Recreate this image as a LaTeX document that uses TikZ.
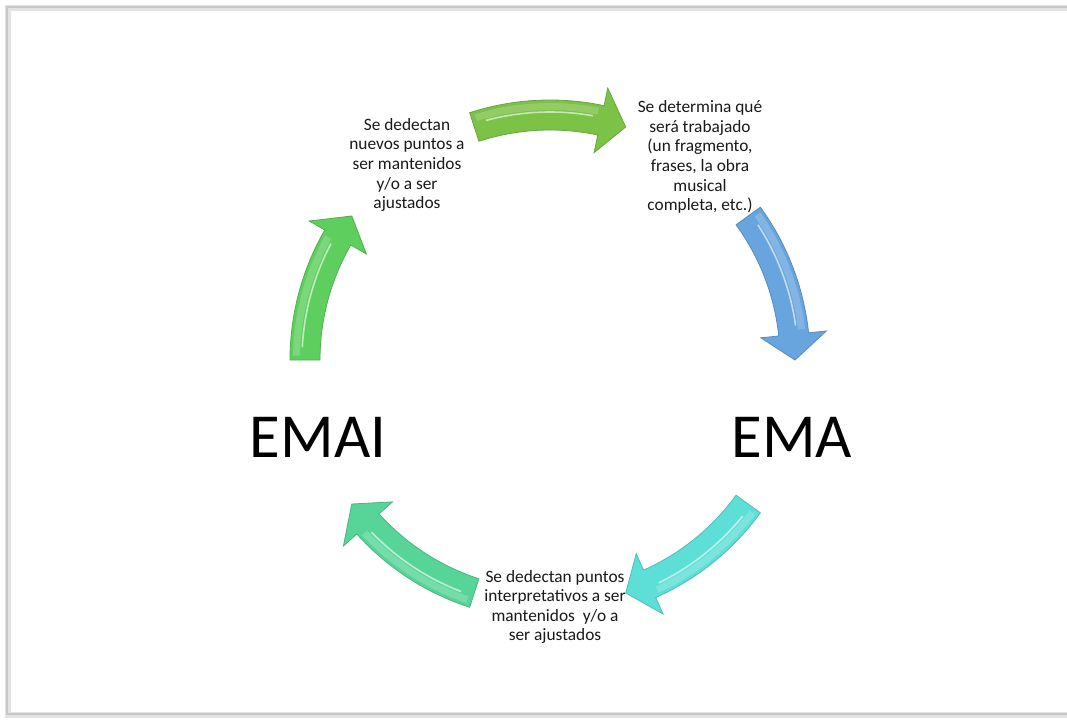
\documentclass[tikz,border=0pt]{standalone}
\usepackage{fontspec}
\setmainfont{Carlito}
\usepackage{xcolor}
\usetikzlibrary{positioning}

\definecolor{greentop}{HTML}{7BC246}
\definecolor{blueright}{HTML}{68A5DE}
\definecolor{cyanlow}{HTML}{5DDED6}
\definecolor{tealleft}{HTML}{57D598}
\definecolor{greenleft}{HTML}{5ECF5E}
\definecolor{framegray}{HTML}{C8C8C8}

% curved block arrow: tail angle, tip angle, colour
\newcommand{\cyclearrow}[3]{
\fill[#3, draw=#3!85!black, line width=0.6]
  (#1:260) arc[start angle=#1, end angle=#2+6, radius=260]
  -- (#2+6:278) -- (#2:245) -- (#2+6:212) -- (#2+6:230)
  arc[start angle=#2+6, end angle=#1, radius=230] -- cycle;
\fill[#3!70!white, opacity=0.6]
  (#1-1:257) arc[start angle=#1-1, end angle=#2+7, radius=257]
  -- (#2+7:250) arc[start angle=#2+7, end angle=#1-1, radius=250] -- cycle;
\draw[white, opacity=0.6, line width=1.2]
  (#1-3:248) arc[start angle=#1-3, end angle=#2+8, radius=248];
}

\tikzset{
  steptext/.style={align=center, text=black!90, inner sep=1pt,
    font=\fontsize{13}{14.7}\selectfont},
  bigtext/.style={text=black, inner sep=0pt,
    font=\fontsize{47}{50}\selectfont}
}

\begin{document}
\begin{tikzpicture}[x=0.75pt, y=0.75pt]
\useasboundingbox (-550,360) rectangle (517,-359);
\clip (-550,360) rectangle (517,-359);
\fill[white] (-550,360) rectangle (517,-359);
% page frame with shadow, open to the right
\draw[framegray!50, line width=5] (-542,352) rectangle (580,-355);
\draw[framegray, line width=1.5] (-543,353) rectangle (580,-354);

% the five steps
\node[steptext] (nuevos) at (-143,195) {Se dedectan\\nuevos puntos a\\ser mantenidos\\y/o a ser\\ajustados};
\node[steptext] (determina) at (150,203) {Se determina qué\\será trabajado\\(un fragmento,\\frases, la obra\\musical\\completa, etc.)};
\node[bigtext] (ema) at (242,-77) {EMA};
\node[steptext] (interpretativos) at (5,-247) {Se dedectan puntos\\interpretativos a ser\\mantenidos\ \ y/o a\\ser ajustados};
\node[bigtext] (emai) at (-232,-77) {EMAI};

% arrows round the cycle
\cyclearrow{108}{72}{greentop}
\cyclearrow{36}{0}{blueright}
\cyclearrow{-36}{-72}{cyanlow}
\cyclearrow{-108}{-144}{tealleft}
\cyclearrow{-180}{-216}{greenleft}
\end{tikzpicture}
\end{document}
